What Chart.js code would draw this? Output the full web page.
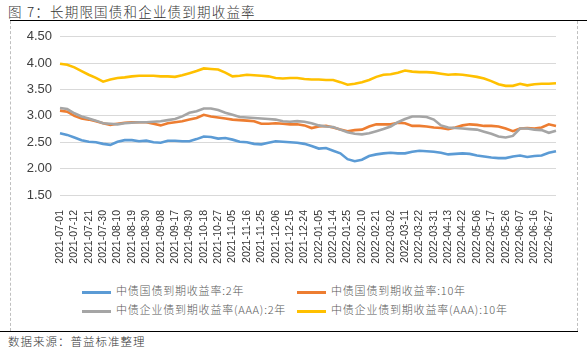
<!DOCTYPE html>
<html lang="zh">
<head>
  <meta charset="UTF-8" />
  <title>长期限国债和企业债到期收益率</title>
  <script src="https://cdn.jsdelivr.net/npm/chart.js"></script>
  <style>
    body { margin: 0; width: 587px; height: 352px; background: #fff; position: relative; overflow: hidden;
           font-family: "Noto Sans CJK SC", "Liberation Sans", sans-serif; }
    .title { position: absolute; left: 8px; top: 1px; font-size: 13.5px; color: #333; letter-spacing: 1.2px; font-weight: 300; }
    .topline { position: absolute; left: 10px; top: 20px; width: 577px; height: 0; border-top: 1.5px solid #000; }
    .box { position: absolute; left: 10px; top: 21px; width: 566px; height: 310px;
           border-left: 1px dashed #bfbfbf; border-right: 1px dashed #bfbfbf; }
    .bottomline { position: absolute; left: 0; top: 331px; width: 578px; height: 0; border-top: 1.5px solid #000; }
    .source { position: absolute; left: 8px; top: 333px; font-size: 11.5px; color: #333; letter-spacing: 1px; font-weight: 300; }
    .chart-wrap { position: absolute; left: 10px; top: 21px; width: 566px; height: 255px; }
    .legend { position: absolute; font-size: 11px; color: #595959; letter-spacing: 0.8px; white-space: nowrap; font-weight: 300; }
    .legend span.sw { display: inline-block; width: 29px; height: 3px; vertical-align: middle; margin-right: 5px; }
  </style>
</head>
<body>
  <div class="title">图 7：长期限国债和企业债到期收益率</div>
  <div class="topline"></div>
  <div class="box"></div>
  <div class="chart-wrap"><canvas id="yieldChart" width="566" height="255"></canvas></div>
  <div id="legend"></div>
  <div class="bottomline"></div>
  <div class="source">数据来源：普益标准整理</div>

  <script>
    // tick dates shown on the x axis (one every other point)
    const tickDates = [
      "2021-07-01", "2021-07-12", "2021-07-21", "2021-07-30", "2021-08-10", "2021-08-19", "2021-08-30",
      "2021-09-08", "2021-09-17", "2021-09-30", "2021-10-18", "2021-10-27", "2021-11-05", "2021-11-16",
      "2021-11-25", "2021-12-06", "2021-12-15", "2021-12-24", "2022-01-05", "2022-01-14", "2022-01-25",
      "2022-02-10", "2022-02-21", "2022-03-02", "2022-03-11", "2022-03-22", "2022-03-31", "2022-04-13",
      "2022-04-22", "2022-05-06", "2022-05-17", "2022-05-26", "2022-06-07", "2022-06-16", "2022-06-27"
    ];

    const seriesNames = [
      "中债国债到期收益率:2年",
      "中债国债到期收益率:10年",
      "中债企业债到期收益率(AAA):2年",
      "中债企业债到期收益率(AAA):10年"
    ];
    const seriesColors = ["#5b9bd5", "#ed7d31", "#a5a5a5", "#ffc000"];

    const gov2y = [
      2.67, 2.64, 2.59, 2.54, 2.51, 2.50, 2.47, 2.45, 2.51, 2.54,
      2.54, 2.52, 2.53, 2.50, 2.49, 2.53, 2.53, 2.52, 2.52, 2.56,
      2.61, 2.60, 2.57, 2.58, 2.55, 2.51, 2.50, 2.47, 2.46, 2.49,
      2.52, 2.51, 2.50, 2.49, 2.47, 2.43, 2.38, 2.39, 2.34, 2.29,
      2.18, 2.14, 2.17, 2.24, 2.27, 2.29, 2.30, 2.29, 2.29, 2.32,
      2.34, 2.33, 2.32, 2.30, 2.27, 2.28, 2.29, 2.28, 2.25, 2.23,
      2.21, 2.20, 2.20, 2.23, 2.25, 2.22, 2.24, 2.25, 2.30, 2.33
    ];
    const gov10y = [
      3.10, 3.08, 3.00, 2.95, 2.93, 2.90, 2.86, 2.83, 2.85, 2.87,
      2.88, 2.88, 2.88, 2.85, 2.82, 2.86, 2.88, 2.90, 2.93, 2.96,
      3.02, 2.99, 2.97, 2.95, 2.93, 2.92, 2.91, 2.90, 2.85, 2.85,
      2.86, 2.85, 2.84, 2.84, 2.82, 2.77, 2.80, 2.81, 2.78, 2.74,
      2.71, 2.73, 2.74, 2.80, 2.84, 2.84, 2.84, 2.87, 2.86, 2.81,
      2.81, 2.80, 2.78, 2.77, 2.75, 2.78, 2.82, 2.84, 2.83, 2.81,
      2.81, 2.80, 2.76, 2.71, 2.76, 2.77, 2.76, 2.78, 2.84, 2.81
    ];
    const corp2y = [
      3.15, 3.13, 3.05, 2.99, 2.95, 2.91, 2.86, 2.85, 2.84, 2.86,
      2.87, 2.88, 2.88, 2.89, 2.90, 2.92, 2.94, 2.99, 3.06, 3.09,
      3.14, 3.14, 3.11, 3.06, 3.02, 2.98, 2.97, 2.96, 2.95, 2.94,
      2.93, 2.90, 2.89, 2.90, 2.89, 2.86, 2.82, 2.80, 2.79, 2.74,
      2.69, 2.66, 2.65, 2.67, 2.71, 2.75, 2.80, 2.88, 2.94, 2.99,
      2.99, 2.98, 2.93, 2.82, 2.78, 2.77, 2.76, 2.75, 2.74, 2.70,
      2.66, 2.61, 2.59, 2.62, 2.76, 2.76, 2.74, 2.73, 2.68, 2.72
    ];
    const corp10y = [
      3.99, 3.97, 3.92, 3.85, 3.78, 3.72, 3.65, 3.69, 3.72, 3.73,
      3.75, 3.76, 3.76, 3.76, 3.75, 3.75, 3.74, 3.77, 3.81, 3.85,
      3.90, 3.89, 3.88, 3.82, 3.75, 3.76, 3.78, 3.77, 3.76, 3.75,
      3.72, 3.71, 3.72, 3.72, 3.70, 3.69, 3.69, 3.68, 3.68, 3.64,
      3.59, 3.61, 3.64, 3.68, 3.74, 3.78, 3.79, 3.82, 3.86, 3.84,
      3.83, 3.83, 3.82, 3.80, 3.78, 3.79, 3.78, 3.76, 3.74, 3.71,
      3.66, 3.60, 3.57, 3.57, 3.61, 3.58, 3.60, 3.61, 3.61, 3.62
    ];

    const yTicks = [1.5, 2.0, 2.5, 3.0, 3.5, 4.0, 4.5];

    // categories: tick date on even points, blank between
    const categories = [];
    for (let i = 0; i < gov2y.length; i++) {
      categories.push(i % 2 === 0 && tickDates[i / 2] ? tickDates[i / 2] : "");
    }

    const allSeries = [gov2y, gov10y, corp2y, corp10y];
    const drawOrder = [4, 3, 2, 1];

    const ctx = document.getElementById('yieldChart').getContext('2d');
    const chart = new Chart(ctx, {
      type: 'line',
      data: {
        labels: categories,
        datasets: allSeries.map((d, i) => ({
          label: seriesNames[i],
          data: d,
          borderColor: seriesColors[i],
          backgroundColor: seriesColors[i],
          borderWidth: 2.6,
          pointRadius: 0,
          tension: 0,
          order: drawOrder[i]
        }))
      },
      options: {
        responsive: false,
        animation: false,
        layout: { padding: { top: 15, right: 20, left: 0, bottom: 0 } },
        plugins: { legend: { display: false }, tooltip: { enabled: false } },
        scales: {
          x: {
            grid: { display: false },
            border: { display: false },
            afterFit: s => { s.height = 81; },
            ticks: {
              autoSkip: false,
              minRotation: 90,
              maxRotation: 90,
              padding: 7,
              color: '#333',
              font: { family: 'Liberation Sans', size: 10.5 },
              callback: function (v, i) { return categories[i]; }
            }
          },
          y: {
            min: 1.5,
            max: 4.5,
            afterFit: s => { s.width = 50; },
            afterBuildTicks: s => { s.ticks = yTicks.map(v => ({ value: v })); },
            grid: { color: '#d9d9d9', lineWidth: 1, drawTicks: false },
            border: { display: false },
            ticks: {
              padding: 8,
              color: '#404040',
              font: { family: 'Liberation Sans', size: 13 },
              callback: v => v.toFixed(2)
            }
          }
        }
      }
    });

    // legend in two columns, like the original
    const legendPos = [[82, 282], [297, 282], [82, 301], [297, 301]];
    const legendEl = document.getElementById('legend');
    seriesNames.forEach((name, i) => {
      const div = document.createElement('div');
      div.className = 'legend';
      div.style.left = legendPos[i][0] + 'px';
      div.style.top = legendPos[i][1] + 'px';
      div.innerHTML = '<span class="sw" style="background:' + seriesColors[i] + '"></span>' + name;
      legendEl.appendChild(div);
    });
  </script>
</body>
</html>
